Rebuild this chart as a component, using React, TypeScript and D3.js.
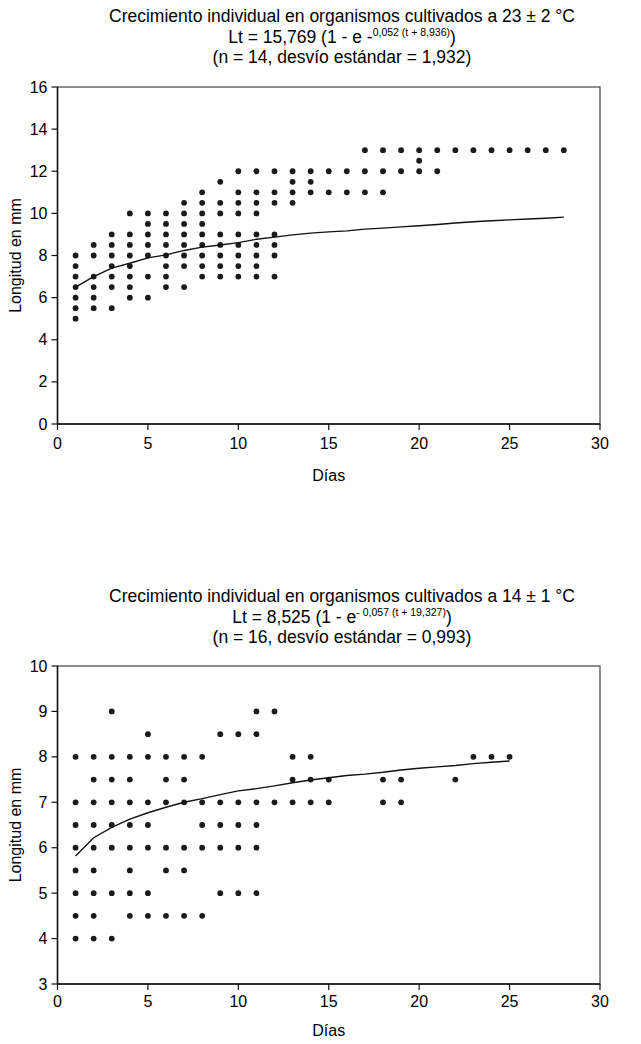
import React from "react";
import * as d3 from "d3";

// ---------- Data ----------
const topDays = d3.range(1, 29);
const topLengths: number[][] = [
  [8, 7.5, 7, 6.5, 6, 5.5, 5],
  [8.5, 8, 7, 6.5, 6, 5.5],
  [9, 8.5, 8, 7.5, 7, 6.5, 5.5],
  [10, 9, 8.5, 8, 7.5, 7, 6.5, 6],
  [10, 9.5, 9, 8.5, 8, 7, 6],
  [10, 9.5, 9, 8.5, 8, 7.5, 7, 6.5],
  [10.5, 10, 9.5, 9, 8.5, 8, 7.5, 6.5],
  [11, 10.5, 10, 9.5, 9, 8.5, 8, 7.5, 7],
  [11.5, 10.5, 10, 9, 8.5, 8, 7.5, 7],
  [12, 11, 10.5, 10, 9, 8.5, 8, 7.5, 7],
  [12, 11, 10.5, 10, 9, 8.5, 8, 7.5, 7],
  [12, 11, 10.5, 9, 8.5, 8, 7],
  [12, 11.5, 11, 10.5],
  [12, 11.5, 11],
  [12, 11],
  [12, 11],
  [13, 12, 11],
  [13, 12, 11],
  [13, 12],
  [13, 12.5, 12],
  [13, 12],
  [13],
  [13],
  [13],
  [13],
  [13],
  [13],
  [13],
];
const topFit = [
  6.5, 7.0, 7.4, 7.63, 7.89, 8.03, 8.24, 8.4, 8.5, 8.61, 8.77, 8.87, 8.98, 9.06,
  9.12, 9.17, 9.25, 9.3, 9.36, 9.41, 9.47, 9.54, 9.6, 9.65, 9.69, 9.73, 9.77, 9.82,
];
const topYTicks = [0, 2, 4, 6, 8, 10, 12, 14, 16];

const botDays = d3.range(1, 26);
const botLengths: number[][] = [
  [8, 7, 6.5, 6, 5.5, 5, 4.5, 4],
  [8, 7.5, 7, 6.5, 6, 5.5, 5, 4.5, 4],
  [9, 8, 7.5, 7, 6.5, 6, 5, 4],
  [8, 7.5, 7, 6.5, 6, 5.5, 5, 4.5],
  [8.5, 8, 7, 6.5, 6, 5, 4.5],
  [8, 7.5, 7, 6, 5.5, 4.5],
  [8, 7.5, 7, 6, 5.5, 4.5],
  [8, 7, 6.5, 6, 4.5],
  [8.5, 7, 6.5, 6, 5],
  [8.5, 7, 6.5, 6, 5],
  [9, 8.5, 7, 6.5, 6, 5],
  [9, 7],
  [8, 7.5, 7],
  [8, 7.5, 7],
  [7.5, 7],
  [],
  [],
  [7.5, 7],
  [7.5, 7],
  [],
  [],
  [7.5],
  [8],
  [8],
  [8],
];
const botFit = [
  5.82, 6.22, 6.45, 6.63, 6.77, 6.89, 7.0, 7.08, 7.17, 7.25, 7.3, 7.36, 7.43,
  7.49, 7.54, 7.59, 7.62, 7.66, 7.71, 7.75, 7.78, 7.81, 7.85, 7.88, 7.91,
];
const botYTicks = [3, 4, 5, 6, 7, 8, 9, 10];
const xTicks = [0, 5, 10, 15, 20, 25, 30];

const FONT = "'Liberation Sans', Arial, sans-serif";

type PanelProps = {
  x0: number;
  x1: number;
  y0: number;
  y1: number;
  yDomain: [number, number];
  yTicks: number[];
  days: number[];
  lengths: number[][];
  fit: number[];
  titleY: number;
  title: string;
  eqMain: string;
  eqSup: string;
  stats: string;
  xTickLabelY: number;
  xTitleY: number;
};

const TITLE_CX = 342;
const TITLE_FS = 17.5;

function Panel(p: PanelProps) {
  const x = d3.scaleLinear().domain([0, 30]).range([p.x0, p.x1]);
  const y = d3.scaleLinear().domain(p.yDomain).range([p.y1, p.y0]);
  const line = d3
    .line<number>()
    .x((_, i) => x(p.days[i]))
    .y((d) => y(d));
  const pts: [number, number][] = [];
  p.days.forEach((d, i) => p.lengths[i].forEach((v) => pts.push([d, v])));
  const cx = (p.x0 + p.x1) / 2;
  const cy = (p.y0 + p.y1) / 2;
  return (
    <g fontFamily={FONT} fill="#000">
      <text x={TITLE_CX} y={p.titleY} textAnchor="middle" fontSize={TITLE_FS}>
        {p.title}
      </text>
      <text x={TITLE_CX} y={p.titleY + 20.5} textAnchor="middle" fontSize={TITLE_FS}>
        {p.eqMain}
        <tspan fontSize={10.5} dy={-6.5}>
          {p.eqSup}
        </tspan>
        <tspan dy={6.5}>)</tspan>
      </text>
      <text x={TITLE_CX} y={p.titleY + 41} textAnchor="middle" fontSize={TITLE_FS}>
        {p.stats}
      </text>
      {/* frame */}
      <rect
        x={p.x0}
        y={p.y0}
        width={p.x1 - p.x0}
        height={p.y1 - p.y0}
        fill="none"
        stroke="#444"
        strokeWidth={1.2}
      />
      {/* axes */}
      <line x1={p.x0} x2={p.x0} y1={p.y0} y2={p.y1} stroke="#111" strokeWidth={1.5} />
      <line x1={p.x0} x2={p.x1} y1={p.y1} y2={p.y1} stroke="#111" strokeWidth={1.5} />
      {p.yTicks.map((t) => (
        <g key={"y" + t}>
          <line x1={p.x0 - 6} x2={p.x0} y1={y(t)} y2={y(t)} stroke="#111" strokeWidth={1.2} />
          <text x={p.x0 - 10} y={y(t) + 5.5} textAnchor="end" fontSize={16}>
            {t}
          </text>
        </g>
      ))}
      {xTicks.map((t) => (
        <g key={"x" + t}>
          <line x1={x(t)} x2={x(t)} y1={p.y1} y2={p.y1 + 6} stroke="#111" strokeWidth={1.2} />
          <text x={x(t)} y={p.xTickLabelY} textAnchor="middle" fontSize={16}>
            {t}
          </text>
        </g>
      ))}
      <text x={cx} y={p.xTitleY} textAnchor="middle" fontSize={16}>
        Días
      </text>
      <text
        transform={`translate(21,${cy}) rotate(-90)`}
        textAnchor="middle"
        fontSize={16}
      >
        Longitud en mm
      </text>
      {pts.map(([d, v], i) => (
        <circle key={i} cx={x(d)} cy={y(v)} r={2.9} fill="#1a1a1a" />
      ))}
      <path d={line(p.fit) || ""} fill="none" stroke="#111" strokeWidth={1.4} />
    </g>
  );
}

export default function App() {
  return (
    <svg
      width={641}
      height={1044}
      style={{ position: "absolute", left: 0, top: 0, background: "#fff" }}
    >
      <rect width={641} height={1044} fill="#fff" />
      <Panel
        x0={57.5}
        x1={600}
        y0={87}
        y1={424}
        yDomain={[0, 16]}
        yTicks={topYTicks}
        days={topDays}
        lengths={topLengths}
        fit={topFit}
        titleY={22}
        title="Crecimiento individual en organismos cultivados a 23 ± 2 °C"
        eqMain="Lt = 15,769 (1 - e -"
        eqSup="0,052 (t + 8,936)"
        stats="(n = 14, desvío estándar = 1,932)"
        xTickLabelY={449}
        xTitleY={481}
      />
      <Panel
        x0={57.5}
        x1={600}
        y0={666}
        y1={984}
        yDomain={[3, 10]}
        yTicks={botYTicks}
        days={botDays}
        lengths={botLengths}
        fit={botFit}
        titleY={602}
        title="Crecimiento individual en organismos cultivados a 14 ± 1 °C"
        eqMain="Lt = 8,525 (1 - e"
        eqSup="- 0,057 (t + 19,327)"
        stats="(n = 16, desvío estándar = 0,993)"
        xTickLabelY={1007}
        xTitleY={1036}
      />
    </svg>
  );
}
